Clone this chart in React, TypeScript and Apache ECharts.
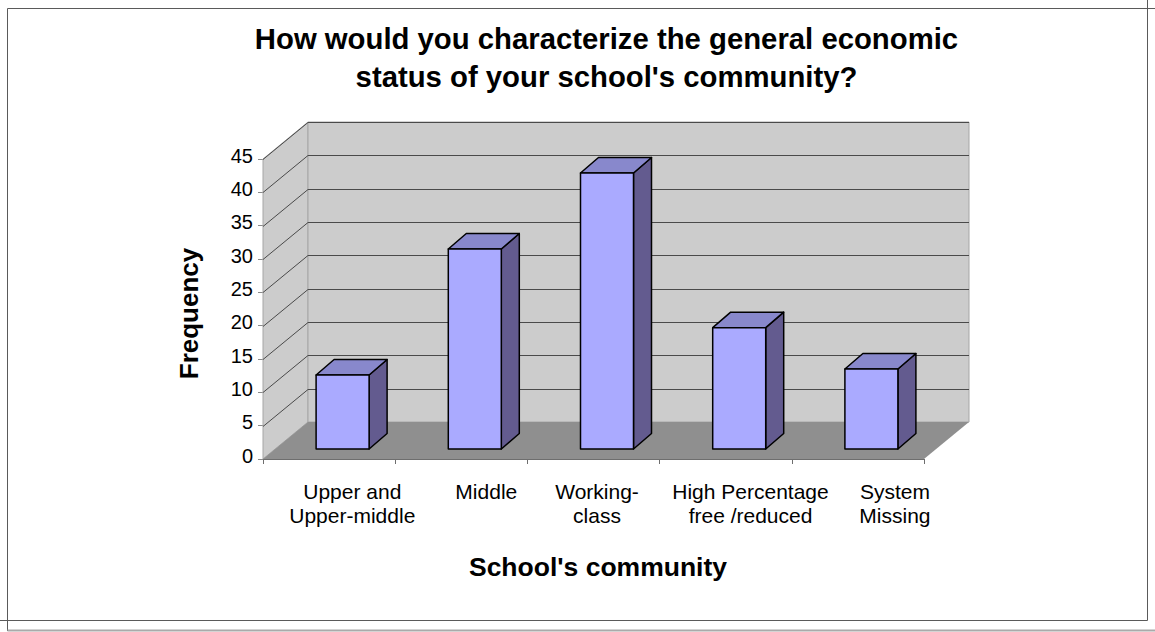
import React, { useEffect, useRef } from "react";
import * as echarts from "echarts";

const titleText = "How would you characterize the general economic\nstatus of your school's community?";
const xAxisName = "School's community";
const yAxisName = "Frequency";
const categories = [
  "Upper and\nUpper-middle",
  "Middle",
  "Working-\nclass",
  "High Percentage\nfree /reduced",
  "System\nMissing",
];
const frequencies = [11.1, 30, 41.4, 18.2, 12];
const yTicks = [5, 10, 15, 20, 25, 30, 35, 40, 45];

// Horizontal nudge of each category caption relative to its band centre.
const captionShift = [23.2, 25, 3.5, 24.8, 37];

// Oblique projection of the box: the floor recedes up and to the right.
const DEPTH_X = 45;
const DEPTH_Y = 37;
const BAR_WIDTH = 53;
const BAR_DEPTH_X = 18;
const BAR_DEPTH_Y = 15.5;
const BAR_SHIFT_X = 13.5;
const BAR_SHIFT_Y = 10;

const WALL = "#cccccc";
const WALL_EDGE = "#a6a6a6";
const FLOOR = "#8f8f8f";
const GRID_LINE = "#4a4a4a";
const BAR_FRONT = "#aaaaff";
const BAR_TOP = "#8888cc";
const BAR_SIDE = "#635b8f";
const FRAME = "#5a5a5a";

function renderBox(params: any, api: any) {
  const { x, y, width, height } = params.coordSys;
  const bottom = y + height;
  const right = x + width;
  const children: any[] = [
    {
      type: "polygon",
      shape: { points: [[x, bottom], [x, y], [x + DEPTH_X, y - DEPTH_Y], [x + DEPTH_X, bottom - DEPTH_Y]] },
      style: { fill: WALL, stroke: WALL_EDGE, lineWidth: 1 },
    },
    {
      type: "polygon",
      shape: {
        points: [
          [x + DEPTH_X, bottom - DEPTH_Y],
          [x + DEPTH_X, y - DEPTH_Y],
          [right + DEPTH_X, y - DEPTH_Y],
          [right + DEPTH_X, bottom - DEPTH_Y],
        ],
      },
      style: { fill: WALL, stroke: WALL_EDGE, lineWidth: 1 },
    },
    {
      type: "polygon",
      shape: { points: [[x, bottom], [x + DEPTH_X, bottom - DEPTH_Y], [right + DEPTH_X, bottom - DEPTH_Y], [right, bottom]] },
      style: { fill: FLOOR },
    },
  ];
  yTicks.forEach((tick) => {
    const py = Math.round(api.coord([0, tick])[1]) + 0.5;
    children.push({
      type: "polyline",
      shape: { points: [[x, py], [x + DEPTH_X, py - DEPTH_Y], [right + DEPTH_X, py - DEPTH_Y]] },
      style: { fill: "none", stroke: GRID_LINE, lineWidth: 1 },
    });
  });
  return { type: "group", children };
}

function renderBar(_params: any, api: any) {
  const [cx, topY] = api.coord([api.value(0), api.value(1)]);
  const baseY = api.coord([api.value(0), 0])[1] - BAR_SHIFT_Y;
  const top = topY - BAR_SHIFT_Y;
  const left = cx + BAR_SHIFT_X - BAR_WIDTH / 2;
  const right = left + BAR_WIDTH;
  const edge = { stroke: "#000000", lineWidth: 1.5, lineJoin: "round" };
  return {
    type: "group",
    children: [
      {
        type: "polygon",
        shape: {
          points: [
            [right, top],
            [right + BAR_DEPTH_X, top - BAR_DEPTH_Y],
            [right + BAR_DEPTH_X, baseY - BAR_DEPTH_Y],
            [right, baseY],
          ],
        },
        style: { fill: BAR_SIDE, ...edge },
      },
      {
        type: "polygon",
        shape: {
          points: [
            [left, top],
            [left + BAR_DEPTH_X, top - BAR_DEPTH_Y],
            [right + BAR_DEPTH_X, top - BAR_DEPTH_Y],
            [right, top],
          ],
        },
        style: { fill: BAR_TOP, ...edge },
      },
      {
        type: "rect",
        shape: { x: left, y: top, width: BAR_WIDTH, height: baseY - top },
        style: { fill: BAR_FRONT, ...edge },
      },
    ],
  };
}

function frameLine(x1: number, y1: number, x2: number, y2: number, stroke = FRAME, lineWidth = 1) {
  return {
    type: "line",
    shape: { x1, y1, x2, y2 },
    style: { stroke, lineWidth },
    silent: true,
  };
}

export default function App() {
  const ref = useRef<HTMLDivElement>(null);

  useEffect(() => {
    const chart = echarts.init(ref.current!, undefined, { renderer: "svg" });
    chart.setOption({
      animation: false,
      backgroundColor: "#ffffff",
      textStyle: { fontFamily: "Liberation Sans" },
      title: {
        text: titleText,
        left: 601.5,
        top: 14,
        textAlign: "center",
        textStyle: {
          fontFamily: "Liberation Sans",
          fontSize: 29.3,
          fontWeight: "bold",
          color: "#000000",
          lineHeight: 38,
        },
      },
      grid: { left: 263, top: 159, width: 661, height: 300 },
      xAxis: {
        type: "category",
        data: categories.map((value, i) => ({
          value,
          textStyle: { padding: [0, 0, 0, captionShift[i] * 2] },
        })),
        name: xAxisName,
        nameLocation: "middle",
        nameGap: 94,
        nameTextStyle: {
          fontFamily: "Liberation Sans",
          fontSize: 26.5,
          fontWeight: "bold",
          color: "#000000",
          padding: [0, 0, 0, 9],
        },
        axisLine: { lineStyle: { color: "#6e6e6e", width: 1 } },
        axisTick: { show: true, length: 5, lineStyle: { color: "#6e6e6e" } },
        axisLabel: {
          interval: 0,
          margin: 20,
          fontFamily: "Liberation Sans",
          fontSize: 21,
          lineHeight: 24,
          color: "#000000",
          verticalAlign: "top",
        },
      },
      yAxis: {
        type: "value",
        min: 0,
        max: 45,
        interval: 5,
        name: yAxisName,
        nameLocation: "middle",
        nameGap: 61,
        nameTextStyle: {
          fontFamily: "Liberation Sans",
          fontSize: 26,
          fontWeight: "bold",
          color: "#000000",
          padding: [0, 9, 0, 0],
        },
        splitLine: { show: false },
        axisLine: { show: true, lineStyle: { color: "#8a8a8a", width: 1 } },
        axisTick: { show: true, length: 5, lineStyle: { color: "#8a8a8a" } },
        axisLabel: {
          margin: 10,
          fontFamily: "Liberation Sans",
          fontSize: 20,
          color: "#000000",
          // A short line box anchored at its bottom lifts each number above its tick.
          verticalAlign: "bottom",
          lineHeight: 7,
        },
      },
      series: [
        {
          type: "custom",
          name: "Box",
          coordinateSystem: "cartesian2d",
          renderItem: renderBox,
          data: [[0, 0]],
          encode: { x: 0, y: 1 },
          silent: true,
          z: 1,
        },
        {
          type: "custom",
          name: yAxisName,
          coordinateSystem: "cartesian2d",
          renderItem: renderBar,
          data: frequencies.map((v, i) => [i, v]),
          encode: { x: 0, y: 1 },
          z: 3,
        },
      ],
      graphic: [
        frameLine(7.5, 8.5, 1155, 8.5),
        frameLine(1147.5, 0, 1147.5, 620.5),
        frameLine(0, 620.5, 1147.5, 620.5),
        frameLine(7.5, 8.5, 7.5, 631),
        frameLine(7.5, 630.5, 1155, 630.5, "#aaaaaa", 2),
      ],
    });
    return () => chart.dispose();
  }, []);

  return (
    <div
      ref={ref}
      style={{ position: "absolute", left: 0, top: 0, width: 1155, height: 632 }}
    />
  );
}
